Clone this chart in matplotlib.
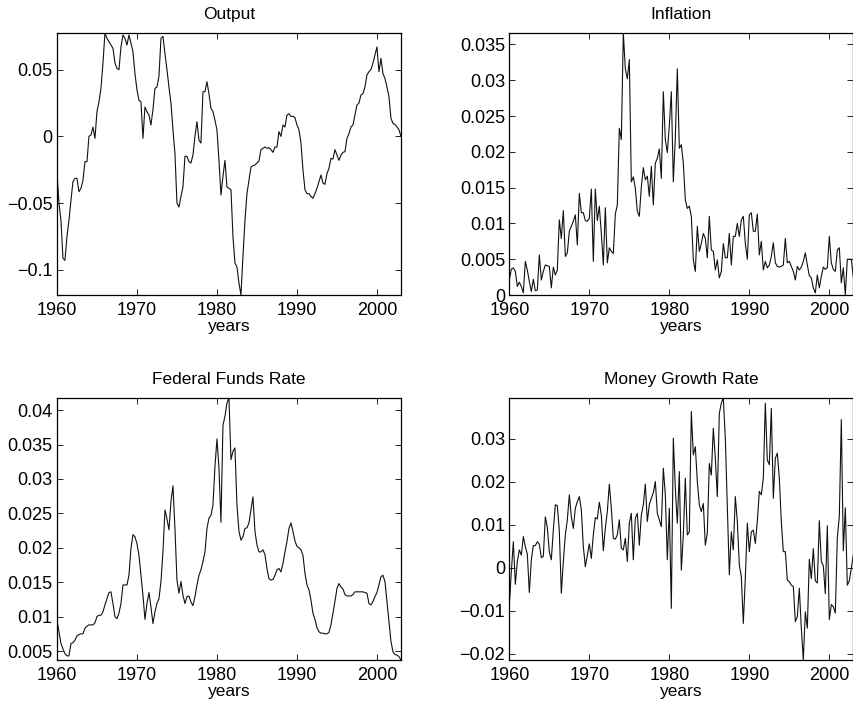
import numpy as np
import matplotlib
matplotlib.use("Agg")
import matplotlib.pyplot as plt
from matplotlib.ticker import FuncFormatter, MultipleLocator

plt.rcParams['font.family'] = ['Liberation Sans', 'DejaVu Sans']
plt.rcParams['font.size'] = 13

# quarterly observations, 1960Q1 .. 2003Q1
years = 1960 + 0.25 * np.arange(173)

output = [
    -0.0275, -0.050, -0.063, -0.0915, -0.093, -0.075, -0.063, -0.048, -0.034, -0.0315,
    -0.0315, -0.0415, -0.039, -0.033, -0.019, -0.019, 0.000, 0.001, 0.007, -0.0015,
    0.0185, 0.026, 0.036, 0.055, 0.0775, 0.0735, 0.071, 0.0685, 0.066, 0.055,
    0.051, 0.050, 0.067, 0.076, 0.0735, 0.0685, 0.076, 0.070, 0.0635, 0.047,
    0.035, 0.027, 0.026, -0.0015, 0.022, 0.0185, 0.016, 0.0085, 0.020, 0.036,
    0.037, 0.045, 0.0735, 0.075, 0.062, 0.050, 0.037, 0.025, 0.005, -0.013,
    -0.050, -0.053, -0.045, -0.038, -0.015, -0.015, -0.019, -0.020, -0.014, 0.000,
    0.011, -0.003, -0.005, 0.0335, 0.0335, 0.041, 0.032, 0.021, 0.0185, 0.012,
    0.005, -0.018, -0.044, -0.030, -0.018, -0.038, -0.039, -0.040, -0.075, -0.095,
    -0.098, -0.110, -0.119, -0.090, -0.063, -0.043, -0.033, -0.023, -0.022, -0.0215,
    -0.020, -0.0185, -0.010, -0.009, -0.008, -0.009, -0.0085, -0.010, -0.012, -0.008,
    -0.008, 0.0035, 0.000, 0.0085, 0.007, 0.016, 0.017, 0.015, 0.015, 0.014,
    0.0085, 0.005, -0.005, -0.025, -0.040, -0.043, -0.043, -0.045, -0.0465, -0.043,
    -0.039, -0.034, -0.029, -0.035, -0.036, -0.028, -0.024, -0.0165, -0.017, -0.010,
    -0.014, -0.018, -0.014, -0.012, -0.0115, -0.0015, 0.002, 0.007, 0.0085, 0.016,
    0.0235, 0.025, 0.031, 0.032, 0.037, 0.046, 0.0485, 0.050, 0.055, 0.061,
    0.067, 0.0485, 0.0585, 0.047, 0.0435, 0.037, 0.030, 0.0135, 0.0097, 0.009,
    0.007, 0.005, 0.000,
]

inflation = [
    0.0021, 0.0036, 0.0038, 0.0033, 0.0012, 0.0018, 0.0012, 0.0003, 0.0047, 0.0035,
    0.0019, 0.0005, 0.0022, 0.0006, 0.0007, 0.0056, 0.0021, 0.0033, 0.0042, 0.0041,
    0.0040, 0.0010, 0.0039, 0.0028, 0.0035, 0.0105, 0.0079, 0.0118, 0.0054, 0.0059,
    0.0089, 0.0096, 0.0103, 0.0112, 0.0070, 0.0142, 0.0115, 0.0115, 0.0104, 0.0103,
    0.0107, 0.0148, 0.0047, 0.0148, 0.0104, 0.0124, 0.0086, 0.0042, 0.0122, 0.0045,
    0.0066, 0.0061, 0.0058, 0.0113, 0.0126, 0.0233, 0.0217, 0.0366, 0.0316, 0.0302,
    0.0329, 0.0158, 0.0165, 0.0149, 0.0117, 0.0110, 0.0151, 0.0178, 0.0161, 0.0166,
    0.0138, 0.0180, 0.0126, 0.0184, 0.0191, 0.0204, 0.0163, 0.0284, 0.0217, 0.0199,
    0.0237, 0.0284, 0.0158, 0.0220, 0.0316, 0.0205, 0.0210, 0.0184, 0.0133, 0.0121,
    0.0124, 0.0110, 0.0049, 0.0033, 0.0096, 0.0061, 0.0072, 0.0086, 0.0079, 0.0052,
    0.0110, 0.0063, 0.0061, 0.0035, 0.0049, 0.0024, 0.0033, 0.0072, 0.0052, 0.0052,
    0.0086, 0.0042, 0.0082, 0.0082, 0.0100, 0.0082, 0.0105, 0.0110, 0.0072, 0.0050,
    0.0112, 0.0115, 0.0089, 0.0089, 0.0113, 0.0056, 0.0075, 0.0035, 0.0047, 0.0038,
    0.0042, 0.0054, 0.0073, 0.0045, 0.0040, 0.0039, 0.0040, 0.0042, 0.0079, 0.0045,
    0.0047, 0.0040, 0.0033, 0.0021, 0.0040, 0.0035, 0.0039, 0.0047, 0.0059, 0.0042,
    0.0027, 0.0024, 0.0010, 0.0003, 0.0028, 0.0010, 0.0026, 0.0039, 0.0036, 0.0038,
    0.0082, 0.0045, 0.0036, 0.0033, 0.0063, 0.0066, 0.0017, 0.0038, 0.0000, 0.0050,
    0.0050, 0.0050, 0.0025,
]

fed_funds = [
    0.0095, 0.0078, 0.0061, 0.0053, 0.0046, 0.0043, 0.0043, 0.0061, 0.0062, 0.0066,
    0.0072, 0.0074, 0.0075, 0.0075, 0.0083, 0.0086, 0.0088, 0.0088, 0.0088, 0.0091,
    0.0100, 0.0102, 0.0102, 0.0107, 0.0117, 0.0126, 0.0135, 0.0136, 0.0119, 0.0100,
    0.0097, 0.0105, 0.0119, 0.0146, 0.0146, 0.0146, 0.0160, 0.0199, 0.0219, 0.0216,
    0.0206, 0.0189, 0.0160, 0.0131, 0.0096, 0.0119, 0.0135, 0.0114, 0.0090, 0.0107,
    0.0119, 0.0126, 0.0151, 0.0194, 0.0255, 0.0242, 0.0226, 0.0267, 0.0290, 0.0228,
    0.0153, 0.0134, 0.0151, 0.0131, 0.0119, 0.0129, 0.0130, 0.0121, 0.0116, 0.0129,
    0.0146, 0.0160, 0.0168, 0.0180, 0.0194, 0.0228, 0.0243, 0.0247, 0.0262, 0.0318,
    0.0358, 0.0316, 0.0237, 0.0378, 0.0391, 0.0410, 0.0418, 0.0328, 0.0340, 0.0345,
    0.0262, 0.0224, 0.0211, 0.0216, 0.0228, 0.0229, 0.0236, 0.0255, 0.0274, 0.0224,
    0.0204, 0.0194, 0.0194, 0.0197, 0.0190, 0.0170, 0.0155, 0.0153, 0.0154, 0.0160,
    0.0168, 0.0170, 0.0165, 0.0177, 0.0194, 0.0209, 0.0228, 0.0236, 0.0224, 0.0210,
    0.0202, 0.0200, 0.0197, 0.0189, 0.0163, 0.0146, 0.0139, 0.0124, 0.0105, 0.0096,
    0.0084, 0.0078, 0.0076, 0.0076, 0.0075, 0.0075, 0.0077, 0.0088, 0.0105, 0.0122,
    0.0141, 0.0148, 0.0143, 0.0140, 0.0132, 0.0130, 0.0130, 0.0130, 0.0132, 0.0136,
    0.0136, 0.0136, 0.0136, 0.0136, 0.0135, 0.0134, 0.0119, 0.0117, 0.0122, 0.0129,
    0.0135, 0.0146, 0.0158, 0.0160, 0.0151, 0.0122, 0.0093, 0.0064, 0.0049, 0.0045,
    0.0044, 0.0042, 0.0037,
]

money_growth = [
    -0.0086, -0.0009, 0.0061, -0.0038, 0.0015, 0.0042, 0.0030, 0.0073, 0.0050, 0.0032,
    -0.0057, 0.0019, 0.0052, 0.0052, 0.0061, 0.0055, 0.0024, 0.0027, 0.0119, 0.0094,
    0.0038, 0.0019, 0.0088, 0.0147, 0.0145, 0.0086, -0.0059, 0.0015, 0.0077, 0.0112,
    0.0170, 0.0119, 0.0092, 0.0139, 0.0154, 0.0166, 0.0135, 0.0050, 0.0003, 0.0030,
    0.0056, 0.0022, 0.0077, 0.0117, 0.0114, 0.0153, 0.0123, 0.0040, 0.0092, 0.0131,
    0.0195, 0.0139, 0.0069, 0.0067, 0.0077, 0.0112, 0.0046, 0.0042, 0.0069, 0.0015,
    0.0104, 0.0127, 0.0019, 0.0116, 0.0127, 0.0053, 0.0123, 0.0147, 0.0195, 0.0108,
    0.0147, 0.0162, 0.0175, 0.0201, 0.0127, 0.0112, 0.0096, 0.0232, 0.0170, 0.0019,
    0.0139, -0.0094, 0.0302, 0.0185, 0.0104, 0.0224, -0.0005, 0.0077, 0.0209, 0.0077,
    0.0084, 0.0364, 0.0263, 0.0282, 0.0201, 0.0147, 0.0131, 0.0150, 0.0053, 0.0081,
    0.0243, 0.0216, 0.0325, 0.0255, 0.0166, 0.0360, 0.0383, 0.0396, 0.0302, 0.0147,
    -0.0016, 0.0084, 0.0042, 0.0166, 0.0108, 0.0007, -0.0020, -0.0129, -0.0024, 0.0104,
    0.0038, 0.0084, 0.0088, 0.0057, 0.0108, 0.0178, 0.0170, 0.0209, 0.0383, 0.0251,
    0.0240, 0.0371, 0.0162, 0.0255, 0.0267, 0.0209, 0.0108, 0.0038, 0.0038, -0.0028,
    -0.0032, -0.0040, -0.0043, -0.0125, -0.0113, -0.0047, -0.0140, -0.0214, -0.0102, -0.0140,
    0.0020, -0.0025, 0.0045, -0.0030, -0.0035, 0.0110, 0.0015, 0.0005, -0.0060, 0.0098,
    -0.0120, -0.0085, -0.0090, -0.0105, 0.0070, 0.0120, 0.0345, 0.0040, 0.0140, -0.0040,
    -0.0030, 0.0000, 0.0030,
]

titles = ["Output", "Inflation", "Federal Funds Rate", "Money Growth Rate"]
series = [output, inflation, fed_funds, money_growth]
ytick_steps = [0.05, 0.005, 0.005, 0.01]

# axes rectangles in figure fractions: left, bottom, width, height
boxes = [
    [0.0667, 0.5827, 0.4028, 0.3706],
    [0.5964, 0.5827, 0.4028, 0.3706],
    [0.0667, 0.0665, 0.4028, 0.3710],
    [0.5964, 0.0665, 0.4028, 0.3710],
]


def matlab_label(v, pos):
    s = '%g' % round(v, 6)
    return s.replace('-', '\u2212')


fig = plt.figure(figsize=(8.54, 7.07), dpi=100)

for box, title, data, step in zip(boxes, titles, series, ytick_steps):
    ax = fig.add_axes(box)
    y = np.array(data)
    ax.plot(years, y, color='#111111', linewidth=0.8)
    ax.set_xlim(1960, 2003)
    ax.set_ylim(y.min(), y.max())
    ax.set_xticks([1960, 1970, 1980, 1990, 2000])
    ax.yaxis.set_major_locator(MultipleLocator(step))
    ax.yaxis.set_major_formatter(FuncFormatter(matlab_label))
    ax.tick_params(direction='in', top=True, right=True, length=4,
                   width=0.6, labelsize=13)
    ax.tick_params(axis='y', pad=3)
    ax.tick_params(axis='x', pad=5)
    for sp in ax.spines.values():
        sp.set_linewidth(0.9)
    ax.set_title(title, fontsize=12.5, pad=10)
    ax.set_xlabel('years', fontsize=12.5, labelpad=0)

fig.savefig('out.png', dpi=100)
